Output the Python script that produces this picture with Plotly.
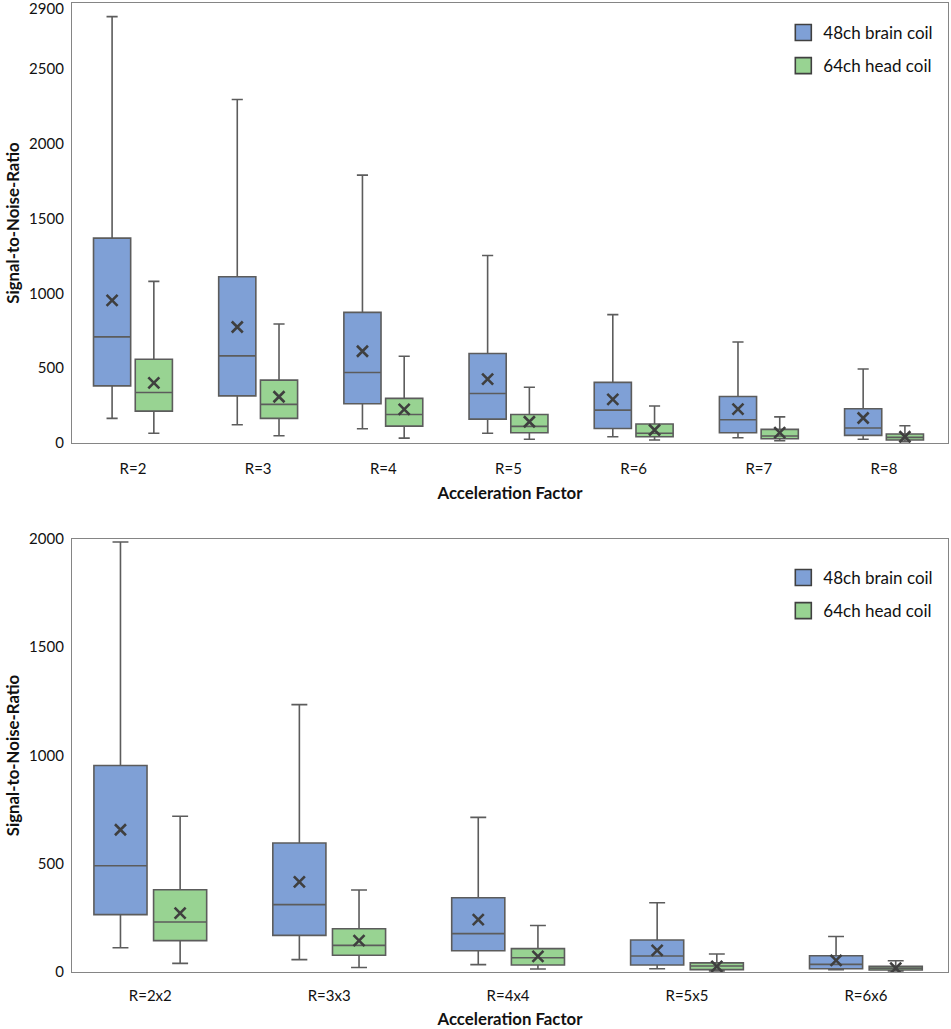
import plotly.graph_objects as go

# ---------------- data ----------------
top_categories = ["R=2", "R=3", "R=4", "R=5", "R=6", "R=7", "R=8"]
bottom_categories = ["R=2x2", "R=3x3", "R=4x4", "R=5x5", "R=6x6"]
series_names = ["48ch brain coil", "64ch head coil"]

top_blue_upper = [2849, 2295, 1790, 1253, 858, 675, 495]
top_blue_q3 = [1369, 1111, 873, 598, 405, 311, 229]
top_blue_med = [709, 582, 471, 331, 220, 155, 100]
top_blue_q1 = [382, 315, 262, 160, 97, 69, 51]
top_blue_lower = [165, 122, 95, 65, 42, 35, 25]
top_blue_mean = [953, 775, 613, 427, 292, 227, 167]

top_green_upper = [1080, 795, 580, 373, 247, 175, 115]
top_green_q3 = [560, 420, 298, 191, 127, 91, 60]
top_green_med = [338, 258, 191, 111, 65, 47, 38]
top_green_q1 = [213, 165, 113, 69, 42, 29, 20]
top_green_lower = [65, 49, 33, 25, 20, 15, 9]
top_green_mean = [402, 309, 225, 142, 87, 69, 42]

bottom_blue_upper = [1986, 1235, 714, 320, 164]
bottom_blue_q3 = [954, 596, 343, 148, 75]
bottom_blue_med = [491, 311, 177, 74, 35]
bottom_blue_q1 = [265, 169, 98, 32, 15]
bottom_blue_lower = [112, 57, 34, 15, 11]
bottom_blue_mean = [657, 416, 242, 100, 54]

bottom_green_upper = [719, 379, 215, 83, 52]
bottom_green_q3 = [380, 200, 108, 42, 26]
bottom_green_med = [231, 123, 66, 28, 17]
bottom_green_q1 = [145, 77, 32, 11, 9]
bottom_green_lower = [40, 21, 14, 5, 5]
bottom_green_mean = [272, 145, 72, 26, 18]

top_ticks = [0, 500, 1000, 1500, 2000, 2500, 2900]
bottom_ticks = [0, 500, 1000, 1500, 2000]

# ---------------- style ----------------
BLUE = "#7fa0d6"
GREEN = "#98d392"
EDGE = "#5c5c5c"
XCOL = "#3f3f3f"
AXIS = "#858585"
FONT = "Lato"

fig = go.Figure()


def add_panel(cats, stats, xa, ya, legend):
    for (name, color, og, up, q3, med, q1, lo, mean) in stats:
        fig.add_trace(go.Box(
            x=cats, q1=q1, median=med, q3=q3, lowerfence=lo, upperfence=up,
            name=name, fillcolor=color, line=dict(color=EDGE, width=1.6),
            whiskerwidth=0.3, boxpoints=False, offsetgroup=og,
            showlegend=False, xaxis=xa, yaxis=ya, hoverinfo="skip",
        ))
        fig.add_trace(go.Scatter(
            x=cats, y=mean, mode="markers", offsetgroup=og,
            marker=dict(symbol="x-thin", size=11, color=XCOL,
                        line=dict(color=XCOL, width=2.6)),
            showlegend=False, xaxis=xa, yaxis=ya, hoverinfo="skip",
        ))
        fig.add_trace(go.Scatter(
            x=[None], y=[None], mode="markers", name=name, offsetgroup=og,
            marker=dict(symbol="square", size=16, color=color,
                        line=dict(color="#404040", width=1.6)),
            legend=legend, legendgroup=legend + name,
            xaxis=xa, yaxis=ya,
        ))


add_panel(top_categories, [
    (series_names[0], BLUE, "a", top_blue_upper, top_blue_q3, top_blue_med,
     top_blue_q1, top_blue_lower, top_blue_mean),
    (series_names[1], GREEN, "b", top_green_upper, top_green_q3, top_green_med,
     top_green_q1, top_green_lower, top_green_mean),
], "x", "y", "legend")

add_panel(bottom_categories, [
    (series_names[0], BLUE, "a", bottom_blue_upper, bottom_blue_q3, bottom_blue_med,
     bottom_blue_q1, bottom_blue_lower, bottom_blue_mean),
    (series_names[1], GREEN, "b", bottom_green_upper, bottom_green_q3, bottom_green_med,
     bottom_green_q1, bottom_green_lower, bottom_green_mean),
], "x2", "y2", "legend2")

axis_common = dict(showline=True, linecolor=AXIS, linewidth=1.2, mirror=True,
                   showgrid=False, zeroline=False, automargin=False,
                   ticklabeloverflow="allow",
                   tickfont=dict(family=FONT, size=15, color="#111"))

title_font = dict(family=FONT, size=16.8, color="#111", weight="bold")

legend_common = dict(xanchor="left", yanchor="top", bgcolor="rgba(0,0,0,0)",
                     font=dict(family=FONT, size=17, color="#111"),
                     traceorder="grouped", tracegroupgap=8, itemclick=False)

fig.update_layout(
    width=951, height=1029,
    template="none",
    paper_bgcolor="white", plot_bgcolor="white",
    margin=dict(l=72, r=3, t=3, b=57),
    boxmode="group", boxgap=0.333, boxgroupgap=0.11,
    scattermode="group", scattergap=0.333,
    showlegend=True,
    xaxis=dict(axis_common, domain=[0, 1], anchor="y", type="category",
               range=[-0.487, 6.511], ticks="outside", ticklen=12,
               tickcolor="rgba(0,0,0,0)",
               title=dict(text="Acceleration Factor", font=title_font, standoff=11)),
    yaxis=dict(axis_common, domain=[0.5459, 1], anchor="x", range=[0, 2940],
               tickvals=top_ticks, ticktext=[str(v) for v in top_ticks],
               ticks="outside", ticklen=4, tickcolor="rgba(0,0,0,0)",
               title=dict(text="Signal-to-Noise-Ratio", font=title_font, standoff=5)),
    xaxis2=dict(axis_common, domain=[0, 1], anchor="y2", type="category",
                range=[-0.4377, 4.459], ticks="outside", ticklen=10,
                tickcolor="rgba(0,0,0,0)",
                title=dict(text="Acceleration Factor", font=title_font, standoff=10)),
    yaxis2=dict(axis_common, domain=[0, 0.4469], anchor="x2", range=[0, 2000],
                tickvals=bottom_ticks, ticktext=[str(v) for v in bottom_ticks],
                ticks="outside", ticklen=4, tickcolor="rgba(0,0,0,0)",
                title=dict(text="Signal-to-Noise-Ratio", font=title_font, standoff=5)),
    legend=dict(legend_common, x=0.812, y=0.9876),
    legend2=dict(legend_common, x=0.812, y=0.4252),
)

fig.write_html("out.html",
               config={"displayModeBar": False},
               post_script="document.body.style.margin='0';document.body.style.padding='0';")
